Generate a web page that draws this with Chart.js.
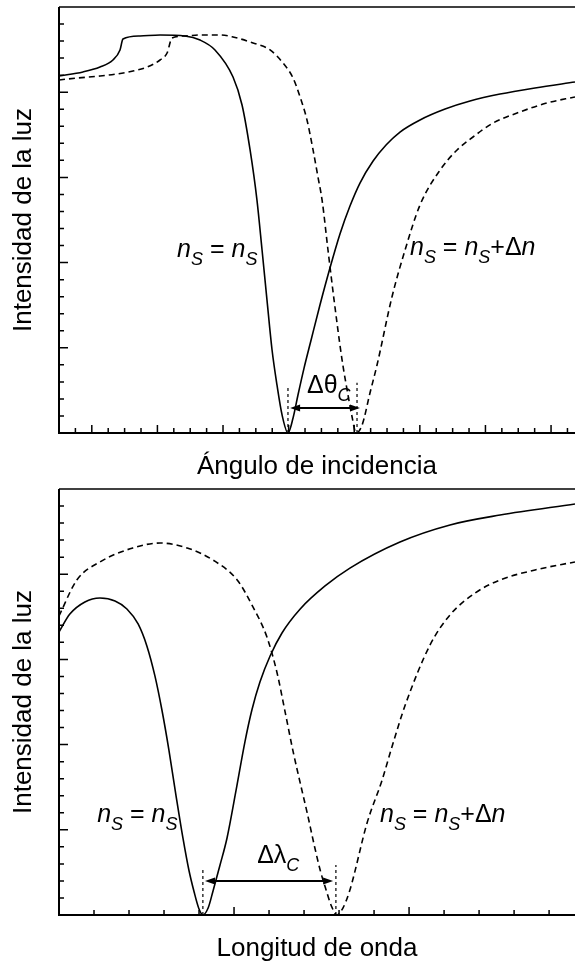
<!DOCTYPE html>
<html>
<head>
<meta charset="utf-8">
<title>Resonancia de plasmón superficial</title>
<script src="https://cdn.jsdelivr.net/npm/chart.js@4.4.0/dist/chart.umd.min.js"></script>
<style>
  body { margin: 0; background: #fff; }
  .box { width: 575px; height: 482px; }
</style>
</head>
<body>
<div class="box"><canvas id="chartAngle" width="575" height="482"></canvas></div>
<div class="box"><canvas id="chartWave" width="575" height="482"></canvas></div>
<script>
// --- reflectancia frente al ángulo de incidencia ---
const angSolidX = [0, 1.46, 2.50, 3.29, 3.72, 3.90, 4.94, 6.16, 7.68, 8.60, 9.51, 10.61, 11.16, 11.65, 12.07,
  12.38, 12.68, 12.99, 13.29, 13.60, 13.96, 14.27, 14.57, 14.94, 15.37, 15.91, 16.52, 17.13, 17.74, 18.35,
  19.15, 19.94, 20.79, 22.01, 23.54, 25.06, 26.89, 29.02, 31.46];
const angSolidY = [20.95, 21.19, 21.48, 21.89, 22.48, 23.12, 23.30, 23.36, 23.30, 23.06, 22.48, 20.89, 19.25,
  16.61, 13.67, 10.74, 7.81, 4.87, 2.82, 1.06, 0, 0.88, 2.23, 3.81, 5.46, 7.51, 9.68, 11.68, 13.32, 14.67,
  15.96, 16.90, 17.66, 18.37, 19.01, 19.48, 19.89, 20.25, 20.60];
const angShiftX = [0, 1.10, 2.50, 3.54, 4.51, 5.37, 6.16, 6.59, 6.89, 7.68, 8.60, 9.82, 10.61, 11.83, 12.87,
  13.66, 14.27, 14.70, 15.12, 15.49, 15.79, 16.04, 16.40, 16.77, 17.26, 17.62, 17.87, 18.11, 18.48, 18.96,
  19.39, 20.30, 21.10, 22.01, 23.23, 24.27, 25.24, 26.46, 27.93, 29.76, 31.46];
const angShiftY = [20.72, 20.83, 20.95, 21.07, 21.24, 21.48, 21.89, 22.30, 23.18, 23.30, 23.36, 23.36, 23.24,
  22.89, 22.48, 21.71, 20.83, 19.72, 18.37, 16.61, 15.02, 13.67, 10.74, 7.81, 4.28, 2.23, 0.94, 0, 0.47,
  2.35, 3.99, 7.98, 10.74, 13.38, 15.43, 16.61, 17.37, 18.19, 18.78, 19.37, 19.72];

// --- reflectancia frente a la longitud de onda ---
const waveSolidX = [0, 0.31, 0.74, 1.17, 1.60, 1.94, 2.26, 2.51, 2.74, 2.94, 3.14, 3.34, 3.54, 3.71, 3.86,
  4.00, 4.11, 4.26, 4.40, 4.60, 4.80, 5.06, 5.31, 5.51, 5.74, 6.03, 6.37, 6.89, 7.60, 8.31, 9.74, 11.17,
  12.60, 14.74];
const waveSolidY = [16.61, 17.66, 18.37, 18.60, 18.43, 17.96, 17.08, 15.79, 14.03, 12.03, 9.68, 7.04, 4.52,
  2.64, 1.35, 0.35, 0, 0.41, 1.41, 2.93, 4.52, 7.34, 10.15, 12.03, 13.67, 15.20, 16.55, 17.96, 19.31, 20.36,
  21.89, 22.89, 23.47, 24.12];
const waveShiftX = [0, 0.51, 1.17, 2.11, 2.89, 3.66, 4.40, 5.09, 5.54, 5.94, 6.23, 6.46, 6.69, 6.89, 7.09,
  7.29, 7.46, 7.63, 7.77, 7.94, 8.11, 8.31, 8.80, 9.23, 9.51, 9.89, 10.60, 11.17, 11.89, 12.60, 13.60, 14.74];
const waveShiftY = [17.55, 19.66, 20.72, 21.54, 21.83, 21.54, 20.83, 19.66, 18.08, 16.31, 14.20, 11.91, 9.57,
  7.75, 5.99, 4.11, 2.64, 1.47, 0.59, 0, 0.41, 1.47, 5.40, 7.92, 9.86, 12.32, 15.85, 17.61, 18.90, 19.66,
  20.25, 20.72];

// rótulos: [texto, estilo]  ('' recto, 'i' cursiva, 's' subíndice)
const labelSame = [['n', 'i'], ['S', 's'], [' = ', ''], ['n', 'i'], ['S', 's']];
const labelShift = labelSame.concat([['+', ''], ['\u0394', ''], ['n', 'i']]);
const labelTheta = [['\u0394\u03b8', ''], ['C', 's']];
const labelLambda = [['\u0394\u03bb', ''], ['C', 's']];

const FONT = '"Liberation Sans", Arial, Helvetica, sans-serif';
Chart.defaults.font.family = FONT;
Chart.defaults.color = '#000';

function pts(xs, ys) {
  return xs.map((v, i) => ({ x: v, y: ys[i] }));
}

function drawParts(ctx, parts, px, py) {
  let cx = px;
  for (const [t, s] of parts) {
    const sub = s === 's';
    ctx.font = (s ? 'italic ' : '') + (sub ? 18 : 25) + 'px ' + FONT;
    ctx.fillText(t, cx, sub ? py + 8 : py);
    cx += ctx.measureText(t).width;
  }
}

// marco, marcas hacia dentro, guías punteadas, flecha y rótulos
const marksPlugin = {
  id: 'marks',
  afterDatasetsDraw(chart, args, o) {
    const { ctx, chartArea: a, scales: { x, y } } = chart;
    ctx.save();
    ctx.strokeStyle = '#000';
    ctx.fillStyle = '#000';

    ctx.lineWidth = 2;
    ctx.beginPath();
    ctx.moveTo(a.left, a.top);
    ctx.lineTo(a.left, a.bottom);
    ctx.lineTo(a.right, a.bottom);
    ctx.stroke();
    ctx.lineWidth = 1.5;
    ctx.beginPath();
    ctx.moveTo(a.left, a.top);
    ctx.lineTo(a.right, a.top);
    ctx.stroke();

    ctx.lineWidth = 1.5;
    ctx.beginPath();
    for (let k = 1; k < x.max; k++) {
      const px = x.getPixelForValue(k);
      const major = k >= o.xMajorFrom && (k - o.xMajorFrom) % o.xMajorEvery === 0;
      ctx.moveTo(px, a.bottom);
      ctx.lineTo(px, a.bottom - (major ? 8 : 5));
    }
    for (let k = 1; k < y.max; k++) {
      const py = y.getPixelForValue(k);
      ctx.moveTo(a.left, py);
      ctx.lineTo(a.left + (k % 5 === 0 ? 9 : 5), py);
    }
    ctx.stroke();

    ctx.lineWidth = 1.2;
    ctx.setLineDash([3, 3]);
    ctx.beginPath();
    for (const [gx, gh] of o.guides) {
      ctx.moveTo(x.getPixelForValue(gx), y.getPixelForValue(0));
      ctx.lineTo(x.getPixelForValue(gx), y.getPixelForValue(gh));
    }
    ctx.stroke();
    ctx.setLineDash([]);

    const [ax1, ax2, ay] = o.arrow;
    const p1 = x.getPixelForValue(ax1), p2 = x.getPixelForValue(ax2), py = y.getPixelForValue(ay);
    ctx.lineWidth = 2;
    ctx.beginPath();
    ctx.moveTo(p1 + 6, py);
    ctx.lineTo(p2 - 6, py);
    ctx.stroke();
    ctx.beginPath();
    ctx.moveTo(p1, py); ctx.lineTo(p1 + 10, py - 3.5); ctx.lineTo(p1 + 10, py + 3.5); ctx.closePath();
    ctx.moveTo(p2, py); ctx.lineTo(p2 - 10, py - 3.5); ctx.lineTo(p2 - 10, py + 3.5); ctx.closePath();
    ctx.fill();

    ctx.textAlign = 'left';
    ctx.textBaseline = 'alphabetic';
    for (const [lx, ly, parts] of o.labels) {
      drawParts(ctx, parts, x.getPixelForValue(lx), y.getPixelForValue(ly));
    }
    ctx.restore();
  }
};

function makeChart(id, solid, shifted, xMax, xTitle, marks) {
  const line = { borderColor: '#000', borderWidth: 1.6, pointRadius: 0, fill: false,
    cubicInterpolationMode: 'monotone' };
  return new Chart(document.getElementById(id), {
    type: 'line',
    data: {
      datasets: [
        Object.assign({ data: solid }, line),
        Object.assign({ data: shifted, borderDash: [6, 4] }, line)
      ]
    },
    options: {
      responsive: false,
      animation: false,
      devicePixelRatio: 1,
      layout: { padding: { top: 7, right: 0, bottom: 0, left: 0 } },
      plugins: { legend: { display: false }, tooltip: { enabled: false }, marks: marks },
      scales: {
        x: {
          type: 'linear', min: 0, max: xMax,
          ticks: { display: false }, grid: { display: false }, border: { display: false },
          title: { display: true, text: xTitle, font: { size: 26 }, padding: { top: 0, bottom: 0 } },
          afterFit(s) { s.height = 49; }
        },
        y: {
          type: 'linear', min: 0, max: 25,
          ticks: { display: false }, grid: { display: false }, border: { display: false },
          title: { display: true, text: 'Intensidad de la luz', font: { size: 26 }, padding: { top: 8, bottom: 0 } },
          afterFit(s) { s.width = 59; }
        }
      }
    },
    plugins: [marksPlugin]
  });
}

makeChart('chartAngle', pts(angSolidX, angSolidY), pts(angShiftX, angShiftY), 31.46, 'Ángulo de incidencia', {
  xMajorFrom: 2, xMajorEvery: 4,
  guides: [[13.96, 2.8], [18.17, 2.95]],
  arrow: [14.09, 18.35, 1.47],
  labels: [[7.2, 10.33, labelSame], [21.4, 10.45, labelShift], [15.12, 2.35, labelTheta]]
});

makeChart('chartWave', pts(waveSolidX, waveSolidY), pts(waveShiftX, waveShiftY), 14.74, 'Longitud de onda', {
  xMajorFrom: 0, xMajorEvery: 5,
  guides: [[4.11, 2.64], [7.91, 2.93]],
  arrow: [4.17, 7.83, 2.0],
  labels: [[1.09, 5.46, labelSame], [9.17, 5.46, labelShift], [5.66, 3.05, labelLambda]]
});
</script>
</body>
</html>
